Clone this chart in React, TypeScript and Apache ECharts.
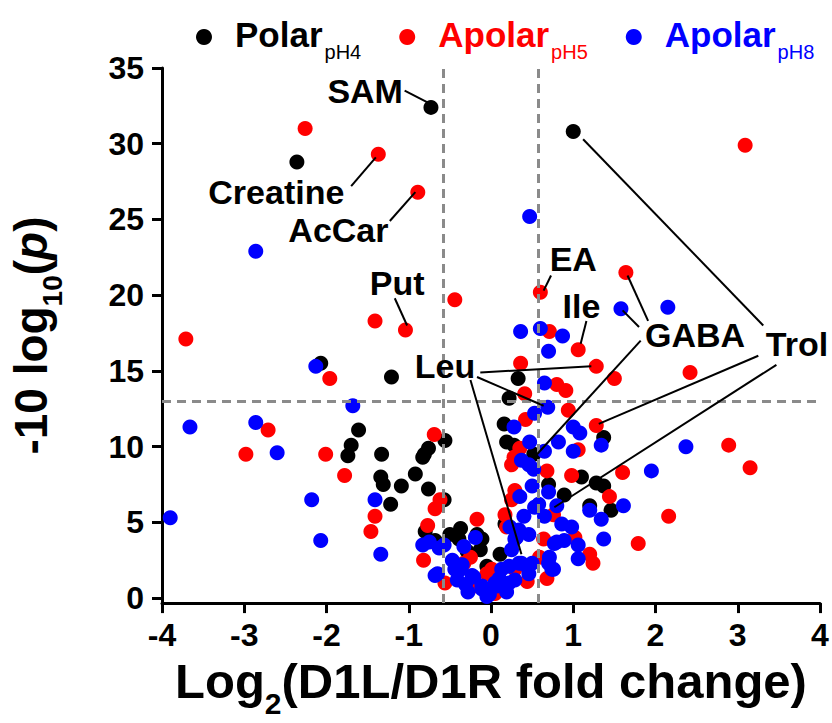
import React, { useEffect, useRef } from "react";
import * as echarts from "echarts";

// ---------- data (log2 fold change, -10 log10 p) ----------
const polarPH4: [number, number][] = [
  [-0.73, 32.4], [1.0, 30.8], [-2.36, 28.8], [-2.07, 15.5], [-1.21, 14.6], [-1.61, 11.1],
  [-1.7, 10.1], [-1.74, 9.4], [-1.33, 9.5], [-1.34, 8.0], [-1.31, 7.5], [-1.09, 7.4],
  [-0.92, 8.2], [-0.81, 9.5], [-0.76, 9.9], [-0.56, 10.4], [-0.83, 9.3], [-0.76, 7.2],
  [-1.22, 6.2], [-0.57, 6.5], [-0.8, 4.4], [-0.68, 3.8], [-0.5, 4.2], [-0.37, 4.6],
  [-0.39, 3.9], [-0.17, 4.2], [-0.13, 3.2], [-0.11, 3.9], [-0.29, 3.1], [0.11, 2.9],
  [-0.05, 2.1], [0.17, 4.9], [0.33, 14.5], [0.22, 13.2], [0.16, 11.5], [0.19, 10.3],
  [0.28, 10.1], [0.52, 9.5], [0.7, 7.5], [0.89, 6.8], [1.1, 8.0], [1.28, 7.6],
  [1.37, 7.4], [1.37, 10.6], [1.2, 6.1], [1.46, 5.8],
];

const apolarPH5: [number, number][] = [
  [-2.26, 31.0], [-1.37, 29.3], [-0.89, 26.8], [3.09, 29.9], [0.6, 20.2], [1.64, 21.5],
  [-0.44, 19.7], [-1.41, 18.3], [-1.04, 17.7], [-3.71, 17.1], [0.71, 17.6], [1.06, 16.4],
  [0.36, 15.5], [1.28, 15.3], [1.5, 14.5], [2.42, 14.9], [-1.96, 14.5], [0.8, 14.1],
  [0.91, 13.7], [0.41, 13.5], [0.94, 12.4], [0.42, 11.8], [1.28, 11.4], [-2.71, 11.1],
  [-2.98, 9.5], [-2.01, 9.5], [-0.69, 10.8], [-1.78, 8.1], [0.35, 9.9], [1.06, 9.8],
  [2.89, 10.1], [3.15, 8.6], [1.6, 8.3], [0.68, 8.4], [0.98, 8.1], [0.28, 9.3],
  [0.29, 7.1], [0.25, 6.5], [-0.62, 6.5], [-0.68, 5.9], [-0.77, 4.8], [-1.41, 5.4],
  [-1.46, 4.4], [-0.82, 2.5], [-0.17, 5.2], [1.44, 6.7], [2.16, 5.4], [1.79, 3.6],
  [0.76, 5.5], [0.17, 5.5], [0.25, 8.8], [1.2, 2.9], [1.24, 2.3], [0.68, 1.3],
  [0.59, 2.7], [0.64, 3.9], [0.19, 4.7], [-0.25, 2.7], [-0.33, 2.3], [-0.56, 1.0],
  [-0.05, 1.6], [0.05, 0.3], [0.29, 1.9], [0.01, 1.9], [0.44, 1.1], [-0.21, 0.8],
  [1.02, 4.0],
];

const apolarPH8: [number, number][] = [
  [-2.86, 22.9], [0.47, 25.2], [1.58, 19.1], [2.15, 19.2], [0.36, 17.6], [0.6, 17.8],
  [0.87, 17.3], [0.7, 16.3], [-2.13, 15.3], [0.65, 14.2], [-1.68, 12.7], [0.69, 12.6],
  [0.53, 12.2], [-3.66, 11.3], [-2.86, 11.6], [-2.6, 9.6], [0.28, 11.3], [1.0, 11.3],
  [1.08, 10.9], [1.34, 10.1], [0.47, 10.3], [0.82, 10.3], [1.0, 9.7], [2.37, 10.0],
  [1.95, 8.4], [0.37, 9.1], [0.65, 9.7], [0.52, 8.5], [0.5, 7.4], [0.7, 7.0],
  [0.35, 6.7], [1.61, 6.1], [1.2, 5.8], [1.34, 5.2], [0.8, 6.1], [0.53, 6.0],
  [0.65, 5.4], [0.98, 4.7], [1.37, 3.9], [0.8, 3.7], [0.89, 3.8], [1.06, 3.5],
  [1.06, 2.6], [0.71, 2.7], [0.74, 1.9], [0.46, 4.2], [0.34, 4.5], [0.4, 5.4],
  [0.29, 3.9], [0.22, 2.1], [0.37, 2.3], [0.5, 2.3], [0.46, 1.6], [0.29, 1.2],
  [0.05, 1.0], [-0.02, 0.24], [-0.11, 0.8], [-3.9, 5.3], [-2.18, 6.5], [-2.07, 3.8],
  [-1.41, 6.5], [-1.34, 2.9], [-0.83, 3.5], [-0.75, 3.7], [-0.57, 3.5], [-0.68, 1.5],
  [-0.47, 2.5], [-0.35, 2.2], [-0.33, 3.4], [-0.23, 1.5], [-0.19, 4.0], [-0.44, 1.9],
  [-0.63, 3.3], [-0.65, 1.6], [-0.37, 1.9], [-0.31, 0.9], [-0.21, 1.4], [-0.11, 0.6],
  [0.1, 1.3], [0.13, 1.9], [0.22, 1.0], [0.34, 2.3], [0.44, 2.1], [0.7, 2.3],
  [0.77, 3.6], [0.76, 1.9], [0.07, 0.8], [0.23, 4.7], [0.31, 4.0], [0.25, 3.2],
  [0.58, 6.2], [0.46, 8.8], [-0.05, 0.1], [-0.28, 0.4], [-0.41, 1.2], [0.19, 0.4],
  [0.86, 4.9],
];

const seriesNames = ["Polar_pH4", "Apolar_pH5", "Apolar_pH8"];
const xTicks = [-4, -3, -2, -1, 0, 1, 2, 3, 4];
const yTicks = [0, 5, 10, 15, 20, 25, 30, 35];
const foldCutoffs = [-0.585, 0.585];
const pCutoff = 13;

const annotationTexts = ["SAM", "Creatine", "AcCar", "Put", "EA", "Ile", "GABA", "Trol", "Leu"];
const annotationAnchors: [number, number][] = [
  [-1.53, 33.5], [-2.61, 26.8], [-1.855, 24.3], [-1.14, 20.8], [1.0, 22.4],
  [1.1, 19.3], [2.48, 17.4], [3.72, 16.8], [-0.56, 15.35],
];
const leaderLines: [number, number, number, number][] = [
  [-1.05, 33.5, -0.76, 32.7],
  [-1.7, 27.2, -1.4, 29.1],
  [-1.23, 24.9, -0.92, 26.8],
  [-1.17, 19.8, -1.02, 18.0],
  [0.73, 21.3, 0.64, 20.3],
  [1.16, 18.3, 1.09, 16.8],
  [1.91, 18.3, 1.66, 21.3],
  [1.8, 17.9, 1.6, 19.0],
  [1.82, 17.0, 0.56, 9.5],
  [3.31, 18.0, 1.12, 30.3],
  [3.25, 16.0, 1.31, 11.5],
  [3.47, 15.4, 0.77, 6.0],
  [-0.13, 14.9, 1.22, 15.3],
  [-0.17, 14.6, 0.64, 12.7],
  [-0.25, 14.4, 0.37, 2.9],
];

const FONT = "'Liberation Sans', Arial, Helvetica, sans-serif";
const COLORS = ["#000000", "#ff0000", "#0000ff"];

export default function App() {
  const ref = useRef<HTMLDivElement>(null);

  useEffect(() => {
    if (!ref.current) return;
    const chart = echarts.init(ref.current, null, { renderer: "svg" });

    const legendRich: Record<string, any> = {};
    COLORS.forEach((c, i) => {
      legendRich["m" + i] = {
        fontFamily: FONT, fontWeight: "bold", fontSize: 35, color: c,
        lineHeight: 40, verticalAlign: "top", padding: [0, 0, 0, 18],
      };
      legendRich["s" + i] = {
        fontFamily: FONT, fontWeight: "normal", fontSize: 20, color: c,
        lineHeight: 20, verticalAlign: "top", padding: [25, 0, 0, 2],
      };
    });

    const titleRich = (size: number, sub: number, subPad: number) => ({
      t: { fontFamily: FONT, fontWeight: "bold", fontSize: size, color: "#000", lineHeight: size + 4, verticalAlign: "top" },
      s: { fontFamily: FONT, fontWeight: "bold", fontSize: sub, color: "#000", lineHeight: sub, verticalAlign: "top", padding: [subPad, 0, 0, 0] },
      i: { fontFamily: FONT, fontWeight: "bold", fontStyle: "italic", fontSize: size, color: "#000", lineHeight: size + 4, verticalAlign: "top" },
    });

    const axisCommon = {
      axisLine: { show: true, onZero: false, lineStyle: { color: "#000", width: 3 } },
      axisTick: { show: true, inside: false, length: 10, lineStyle: { color: "#000", width: 3 } },
      splitLine: { show: false },
    };
    const tickLabel = { fontFamily: FONT, fontWeight: "bold", fontSize: 32, color: "#000" };

    const markLineData: any[] = [
      ...foldCutoffs.map((v) => ({ xAxis: v })),
      { yAxis: pCutoff },
      ...leaderLines.map((l) => [
        { coord: [l[0], l[1]], lineStyle: { color: "#000", width: 2, type: "solid" } },
        { coord: [l[2], l[3]] },
      ]),
    ];

    chart.setOption({
      animation: false,
      backgroundColor: "#ffffff",
      grid: { left: 158, right: 12, top: 68, bottom: 116, containLabel: false },
      legend: {
        top: 12,
        left: 191,
        icon: "circle",
        itemWidth: 16,
        itemHeight: 16,
        itemGap: 38,
        selectedMode: false,
        data: seriesNames.map((n, i) => ({ name: n, textStyle: { color: COLORS[i] } })),
        formatter: (name: string) => {
          const i = seriesNames.indexOf(name);
          const [a, b] = name.split("_");
          return `{m${i}|${a}}{s${i}|${b}}`;
        },
        textStyle: { fontFamily: FONT, fontWeight: "bold", fontSize: 35, rich: legendRich },
      },
      xAxis: {
        type: "value",
        min: xTicks[0],
        max: xTicks[xTicks.length - 1],
        interval: 1,
        ...axisCommon,
        axisLabel: { ...tickLabel, margin: 16 },
        name: "{t|Log}{s|2}{t|(D1L/D1R fold change)}",
        nameLocation: "middle",
        nameGap: 43,
        nameTextStyle: { fontFamily: FONT, fontWeight: "bold", fontSize: 49, color: "#000", rich: titleRich(49, 30, 32) },
      },
      yAxis: {
        type: "value",
        min: -0.33,
        max: yTicks[yTicks.length - 1],
        ...axisCommon,
        axisTick: { ...axisCommon.axisTick, customValues: yTicks },
        axisLabel: { ...tickLabel, margin: 18, customValues: yTicks },
        name: "{t|-10 log}{s|10}{t|(}{i|p}{t|)}",
        nameLocation: "middle",
        nameRotate: 90,
        nameGap: 104,
        nameTextStyle: { fontFamily: FONT, fontWeight: "bold", fontSize: 46, color: "#000", rich: titleRich(46, 28, 30) },
      },
      series: [
        ...[polarPH4, apolarPH5, apolarPH8].map((d, i) => ({
          name: seriesNames[i],
          type: "scatter",
          data: d,
          symbol: "circle",
          symbolSize: 15,
          itemStyle: { color: COLORS[i], opacity: 1 },
          emphasis: { disabled: true },
          z: 2 + i,
        })),
        {
          name: "annotations",
          type: "scatter",
          symbol: "circle",
          symbolSize: 0,
          itemStyle: { color: "#000000", opacity: 1 },
          emphasis: { disabled: true },
          silent: true,
          z: 10,
          data: annotationTexts.map((t, i) => ({ name: t, value: annotationAnchors[i] })),
          label: {
            show: true,
            position: "inside",
            formatter: "{b}",
            fontFamily: FONT,
            fontWeight: "bold",
            fontSize: 34,
            color: "#000000",
            opacity: 1,
            textBorderWidth: 0,
            textShadowBlur: 0,
          },
          markLine: {
            silent: true,
            symbol: ["none", "none"],
            label: { show: false },
            emphasis: { disabled: true },
            lineStyle: { color: "#8a8a8a", width: 3, type: [9, 6], opacity: 1 },
            data: markLineData,
          },
        },
      ],
    });

    return () => chart.dispose();
  }, []);

  return (
    <div
      ref={ref}
      style={{ position: "fixed", left: 0, top: 0, width: 832, height: 723, background: "#fff" }}
    />
  );
}
